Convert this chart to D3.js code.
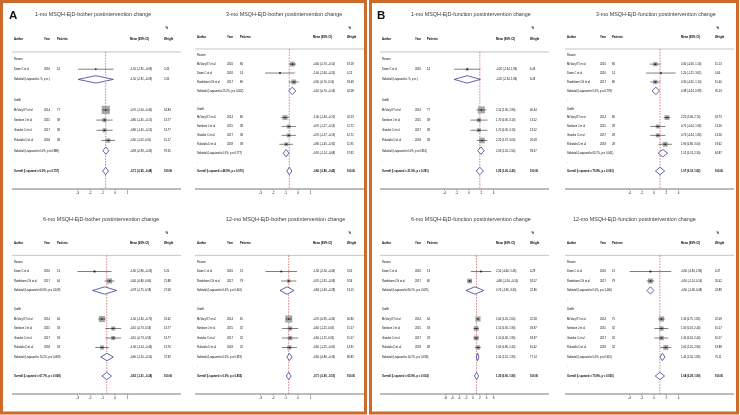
<!DOCTYPE html>
<html><head><meta charset="utf-8">
<script src="https://cdn.jsdelivr.net/npm/d3@7/dist/d3.min.js"></script>
<style>
body{margin:0;background:#fff}
svg{display:block;will-change:transform}
text{font-family:"Liberation Sans",Arial,Helvetica,sans-serif}
</style>
</head><body>
<svg id="chart" width="740" height="415"></svg>
<script>
// ---------- DATA ----------
const titles = [
  "1-mo MSQH-EjD-bother postintervention change",
  "3-mo MSQH-EjD-bother postintervention change",
  "6-mo MSQH-EjD-bother postintervention change",
  "12-mo MSQH-EjD-bother postintervention change",
  "1-mo MSQH-EjD-function postintervention change",
  "3-mo MSQH-EjD-function postintervention change",
  "6-mo MSQH-EjD-function postintervention change",
  "12-mo MSQH-EjD-function postintervention change"
];
const groupLabels = ["Rezum", "Urolift"];
const headers = ["Author", "Year", "Patients", "Mean (95% CI)", "Weight"];
const ticksA = [-3, -2, -1, 0, 1];
const ticksB = [-4, -2, 0, 2, 4];
const ticksB6 = [-8, -6, -4, -2, 0, 2, 4, 6];

// studies: [author, year, patients, mean, lower, upper, weight%]
// pooled:  [I-squared, p, mean, lower, upper, weight%]
const rezumA1 = [["Dixon C et al", 2016, 14, -1.50, -2.91, -0.09, 2.45]];
const rezumSubA1 = [".", ".", -1.50, -2.91, -0.09, 2.45];
const urolA1 = [
  ["McVary KT et al", 2014, 77, -0.70, -1.00, -0.40, 54.84],
  ["Sonksen J et al", 2015, 38, -0.80, -1.45, -0.15, 13.77],
  ["Gratzke C et al", 2017, 38, -0.80, -1.45, -0.15, 13.77],
  ["Rukstalis D et al", 2018, 38, -0.50, -1.05, 0.05, 15.17]];
const urolSubA1 = ["0.0", "0.888", -0.69, -0.93, -0.45, 97.55];
const overallA1 = ["0.0", "0.757", -0.71, -0.95, -0.48, 100.00];

const rezumA3 = [
  ["McVary KT et al", 2016, 80, -0.40, -0.70, -0.10, 19.18],
  ["Dixon C et al", 2016, 14, -1.40, -2.60, -0.20, 4.21],
  ["Roehrborn CG et al", 2017, 80, -0.30, -0.70, 0.10, 18.69]];
const rezumSubA3 = ["25.2", "0.262", -0.42, -0.70, -0.14, 42.08];
const urolA3 = [
  ["McVary KT et al", 2014, 80, -1.00, -1.30, -0.70, 20.53],
  ["Sonksen J et al", 2015, 38, -0.70, -1.27, -0.13, 12.72],
  ["Gratzke C et al", 2017, 38, -0.70, -1.27, -0.13, 12.72],
  ["Rukstalis D et al", 2018, 38, -0.90, -1.45, -0.35, 11.95]];
const urolSubA3 = ["0.0", "0.777", -0.91, -1.14, -0.68, 57.92];
const overallA3 = ["48.5", "0.070", -0.66, -0.86, -0.45, 100.00];

const rezumA6 = [
  ["Dixon C et al", 2016, 13, -1.60, -2.96, -0.24, 5.20],
  ["Roehrborn CG et al", 2017, 64, -0.40, -0.80, 0.00, 21.88]];
const rezumSubA6 = ["60.6", "0.109", -0.79, -1.75, 0.18, 27.08];
const urolA6 = [
  ["McVary KT et al", 2014, 64, -1.00, -1.30, -0.70, 31.62],
  ["Sonksen J et al", 2015, 33, -0.10, -0.73, 0.53, 13.77],
  ["Gratzke C et al", 2017, 33, -0.10, -0.73, 0.53, 13.77],
  ["Rukstalis D et al", 2018, 33, -1.00, -1.54, -0.46, 13.76]];
const urolSubA6 = ["74.2", "0.009", -0.60, -1.10, -0.10, 72.92];
const overallA6 = ["67.7", "0.008", -0.62, -1.01, -0.24, 100.00];

const rezumA12 = [
  ["Dixon C et al", 2016, 13, -1.30, -2.56, -0.04, 3.61],
  ["Roehrborn CG et al", 2017, 79, -0.70, -1.31, -0.09, 9.54]];
const rezumSubA12 = ["0.0", "0.441", -0.84, -1.40, -0.28, 13.15];
const urolA12 = [
  ["McVary KT et al", 2014, 65, -0.70, -0.95, -0.45, 40.80],
  ["Sonksen J et al", 2015, 32, -0.60, -1.25, 0.05, 15.57],
  ["Gratzke C et al", 2017, 32, -0.60, -1.25, 0.05, 15.57],
  ["Rukstalis D et al", 2018, 32, -0.65, -1.25, -0.05, 14.91]];
const urolSubA12 = ["0.0", "0.919", -0.65, -0.86, -0.43, 86.85];
const overallA12 = ["0.0", "0.855", -0.71, -0.90, -0.51, 100.00];

const rezumB1 = [["Dixon C et al", 2016, 14, -0.20, -2.34, 1.94, 6.43]];
const rezumSubB1 = [".", ".", -0.20, -2.34, 1.94, 6.43];
const urolB1 = [
  ["McVary KT et al", 2014, 77, 2.10, 1.30, 2.90, 40.44],
  ["Sonksen J et al", 2015, 38, 1.70, 0.30, 3.10, 13.52],
  ["Gratzke C et al", 2017, 38, 1.70, 0.30, 3.10, 13.52],
  ["Rukstalis D et al", 2018, 38, 2.20, 1.37, 3.03, 26.09]];
const urolSubB1 = ["0.0", "0.851", 2.03, 1.50, 2.56, 93.57];
const overallB1 = ["21.0", "0.281", 1.85, 1.26, 2.43, 100.00];

const rezumB3 = [
  ["McVary KT et al", 2016, 80, 0.30, -0.56, 1.16, 15.13],
  ["Dixon C et al", 2016, 14, 1.20, -1.21, 3.61, 4.60],
  ["Roehrborn CG et al", 2017, 80, 0.30, -0.50, 1.10, 15.40]];
const rezumSubB3 = ["0.0", "0.778", 0.38, -0.24, 0.99, 35.13];
const urolB3 = [
  ["McVary KT et al", 2014, 80, 2.20, 1.66, 2.74, 18.73],
  ["Sonksen J et al", 2015, 28, 0.70, -0.54, 1.94, 13.26],
  ["Gratzke C et al", 2017, 28, 0.70, -0.54, 1.94, 13.26],
  ["Rukstalis D et al", 2018, 28, 1.90, 0.80, 3.00, 19.62]];
const urolSubB3 = ["63.7", "0.041", 1.52, 0.74, 2.30, 64.87];
const overallB3 = ["75.8", "0.003", 1.07, 0.32, 1.82, 100.00];

const rezumB6 = [
  ["Dixon C et al", 2016, 13, 2.50, -0.46, 5.46, 4.29],
  ["Roehrborn CG et al", 2017, 80, -0.80, -1.50, -0.10, 18.57]];
const rezumSubB6 = ["80.1", "0.025", 0.70, -1.90, 3.30, 22.86];
const urolB6 = [
  ["McVary KT et al", 2014, 64, 1.60, 1.20, 2.00, 22.58],
  ["Sonksen J et al", 2015, 33, 1.10, 0.30, 1.90, 18.97],
  ["Gratzke C et al", 2017, 33, 1.10, 0.30, 1.90, 18.97],
  ["Rukstalis D et al", 2018, 38, 1.60, 0.80, 2.40, 16.62]];
const urolSubB6 = ["14.7", "0.318", 1.50, 1.10, 1.90, 77.14];
const overallB6 = ["65.0", "0.014", 1.20, 0.60, 1.80, 100.00];

const rezumB12 = [
  ["Dixon C et al", 2016, 13, -0.50, -3.90, 2.90, 4.47],
  ["Roehrborn CG et al", 2017, 79, -0.50, -1.14, 0.14, 20.42]];
const rezumSubB12 = ["0.0", "1.000", -0.50, -1.08, 0.08, 24.89];
const urolB12 = [
  ["McVary KT et al", 2014, 75, 1.30, 0.75, 1.85, 22.09],
  ["Sonksen J et al", 2015, 32, 1.30, 0.16, 2.44, 16.57],
  ["Gratzke C et al", 2017, 32, 1.30, 0.16, 2.44, 16.57],
  ["Rukstalis D et al", 2018, 32, 2.00, 1.10, 2.90, 19.88]];
const urolSubB12 = ["0.0", "0.615", 1.45, 1.05, 1.85, 75.11];
const overallB12 = ["70.6", "0.005", 1.04, 0.28, 1.80, 100.00];

// ---------- LAYOUT ----------
const svg = d3.select("#chart");
const ORANGE = "#cd6a2a";
svg.append("rect").attr("x", 0).attr("y", 0).attr("width", 740).attr("height", 415).attr("fill", "#fff");
svg.append("rect").attr("x", 1.5).attr("y", 1.5).attr("width", 364).attr("height", 411.5)
  .attr("fill", "none").attr("stroke", ORANGE).attr("stroke-width", 3);
svg.append("rect").attr("x", 370.5).attr("y", 1.5).attr("width", 367).attr("height", 411.5)
  .attr("fill", "none").attr("stroke", ORANGE).attr("stroke-width", 3);
svg.append("text").attr("x", 9).attr("y", 19).text("A")
  .attr("font-size", 11.5).attr("font-weight", "bold").attr("fill", "#111");
svg.append("text").attr("x", 377).attr("y", 19).text("B")
  .attr("font-size", 11.5).attr("font-weight", "bold").attr("fill", "#111");

const colsA = {author: 14, year: 44, n: 57, ci: 130, w: 164, xr: [77, 127]};
const colsB = {author: 14, year: 47, n: 59, ci: 128, w: 162, xr: [76, 125]};

const panels = [
  {ox: 0,   oy: 0,   title: titles[0], ticks: ticksA, cols: colsA, t0: 35, rz: rezumA1, rzs: rezumSubA1, ul: urolA1, uls: urolSubA1, ov: overallA1},
  {ox: 183, oy: 0,   title: titles[1], ticks: ticksA, cols: colsA, t0: 43, rz: rezumA3, rzs: rezumSubA3, ul: urolA3, uls: urolSubA3, ov: overallA3},
  {ox: 0,   oy: 205, title: titles[2], ticks: ticksA, cols: colsA, t0: 43, rz: rezumA6, rzs: rezumSubA6, ul: urolA6, uls: urolSubA6, ov: overallA6},
  {ox: 183, oy: 205, title: titles[3], ticks: ticksA, cols: colsA, t0: 43, rz: rezumA12, rzs: rezumSubA12, ul: urolA12, uls: urolSubA12, ov: overallA12},
  {ox: 368, oy: 0,   title: titles[4], ticks: ticksB, cols: colsB, t0: 43, rz: rezumB1, rzs: rezumSubB1, ul: urolB1, uls: urolSubB1, ov: overallB1},
  {ox: 553, oy: 0,   title: titles[5], ticks: ticksB, cols: colsB, t0: 43, rz: rezumB3, rzs: rezumSubB3, ul: urolB3, uls: urolSubB3, ov: overallB3},
  {ox: 368, oy: 205, title: titles[6], ticks: ticksB6, cols: {...colsB, xr: [77, 125]}, t0: 43, rz: rezumB6, rzs: rezumSubB6, ul: urolB6, uls: urolSubB6, ov: overallB6},
  {ox: 553, oy: 205, title: titles[7], ticks: ticksB, cols: colsB, t0: 20, rz: rezumB12, rzs: rezumSubB12, ul: urolB12, uls: urolSubB12, ov: overallB12}
];

const f2 = v => v.toFixed(2);
const ciText = (m, l, u) => `${f2(m)} (${f2(l)}, ${f2(u)})`;
const FS = 2.65;

function drawForest(p) {
  const g = svg.append("g");
  const c = p.cols;
  const rows = [{type: "pct"}, {type: "head"}, {type: "blank"}, {type: "group", label: groupLabels[0]}];
  p.rz.forEach(s => rows.push({type: "study", d: s}));
  rows.push({type: "sub", d: p.rzs}, {type: "dot"}, {type: "group", label: groupLabels[1]});
  p.ul.forEach(s => rows.push({type: "study", d: s}));
  rows.push({type: "sub", d: p.uls}, {type: "dot"}, {type: "overall", d: p.ov});

  const y = d3.scaleLinear().domain([0, rows.length - 1]).range([p.oy + 28.5, p.oy + 171]);
  const x = d3.scaleLinear().domain(d3.extent(p.ticks)).range([p.ox + c.xr[0], p.ox + c.xr[1]]);
  const axisY = p.oy + 189;
  const headLineY = y(2.3);

  g.append("text").attr("x", p.ox + p.t0).attr("y", p.oy + 14).attr("dy", "0.35em")
    .attr("font-size", 5.4).attr("fill", "#3a3a3a").text(p.title);

  g.append("line").attr("x1", p.ox + 12).attr("x2", p.ox + 181)
    .attr("y1", headLineY).attr("y2", headLineY).attr("stroke", "#8a8a8a").attr("stroke-width", 0.5);

  g.append("line").attr("x1", x(p.ov[2])).attr("x2", x(p.ov[2]))
    .attr("y1", headLineY).attr("y2", axisY)
    .attr("stroke", "#cc6060").attr("stroke-width", 0.75).attr("stroke-dasharray", "1.6,1.2");

  const txt = (xx, yy, s, opts = {}) => g.append("text").attr("x", xx).attr("y", yy).attr("dy", "0.35em")
    .attr("font-size", opts.fs || FS).attr("font-weight", opts.bold ? "bold" : "normal")
    .attr("fill", "#000").text(s);

  rows.forEach((r, i) => {
    const yy = y(i);
    if (r.type === "pct") {
      txt(p.ox + c.w + 1.5, yy, "%", {bold: true, fs: 2.8});
    } else if (r.type === "head") {
      txt(p.ox + c.author, yy, headers[0], {bold: true, fs: 2.8});
      txt(p.ox + c.year, yy, headers[1], {bold: true, fs: 2.8});
      txt(p.ox + c.n, yy, headers[2], {bold: true, fs: 2.8});
      txt(p.ox + c.ci, yy, headers[3], {bold: true, fs: 2.8});
      txt(p.ox + c.w, yy, headers[4], {bold: true, fs: 2.8});
    } else if (r.type === "group") {
      txt(p.ox + c.author, yy, r.label);
    } else if (r.type === "dot") {
      txt(p.ox + c.author, yy, ".");
    } else if (r.type === "study") {
      const d = r.d;
      txt(p.ox + c.author, yy, d[0]);
      txt(p.ox + c.year, yy, d[1]);
      txt(p.ox + c.n, yy, d[2]);
      txt(p.ox + c.ci, yy, ciText(d[3], d[4], d[5]));
      txt(p.ox + c.w, yy, f2(d[6]));
      const side = 1.1 * Math.sqrt(d[6]);
      g.append("rect").attr("x", x(d[3]) - side / 2).attr("y", yy - side / 2)
        .attr("width", side).attr("height", side).attr("fill", "#a6a6a6");
      g.append("line").attr("x1", x(d[4])).attr("x2", x(d[5])).attr("y1", yy).attr("y2", yy)
        .attr("stroke", "#2a2a2a").attr("stroke-width", 0.6);
      g.append("circle").attr("cx", x(d[3])).attr("cy", yy).attr("r", 0.75).attr("fill", "#111");
    } else if (r.type === "sub" || r.type === "overall") {
      const d = r.d;
      const lbl = (r.type === "sub" ? "Subtotal" : "Overall") + `  (I-squared = ${d[0]}%, p = ${d[1]})`;
      txt(p.ox + c.author, yy, lbl, {bold: r.type === "overall"});
      txt(p.ox + c.ci, yy, ciText(d[2], d[3], d[4]), {bold: r.type === "overall"});
      txt(p.ox + c.w, yy, f2(d[5]), {bold: r.type === "overall"});
      const h = 3.7;
      const pts = [[x(d[3]), yy], [x(d[2]), yy - h], [x(d[4]), yy], [x(d[2]), yy + h]];
      g.append("path").attr("d", d3.line()(pts) + "Z")
        .attr("fill", "#fff").attr("stroke", "#3a3a98").attr("stroke-width", 0.8);
    }
  });

  g.append("line").attr("x1", p.ox + 12).attr("x2", p.ox + 181).attr("y1", axisY).attr("y2", axisY)
    .attr("stroke", "#6a6a6a").attr("stroke-width", 0.9);
  const ax = g.append("g").attr("transform", `translate(0,${axisY})`)
    .call(d3.axisBottom(x).tickValues(p.ticks).tickSize(1.5).tickPadding(1.3).tickFormat(d3.format("d")));
  ax.select(".domain").remove();
  ax.selectAll(".tick line").attr("stroke", "#6a6a6a").attr("stroke-width", 0.5);
  ax.selectAll(".tick text").attr("font-size", 3.1).attr("fill", "#111")
    .attr("font-family", "Liberation Sans, Arial, sans-serif")
    .text(d => String(d).replace("\u2212", "-"));
}

panels.forEach(drawForest);
</script>
</body></html>
